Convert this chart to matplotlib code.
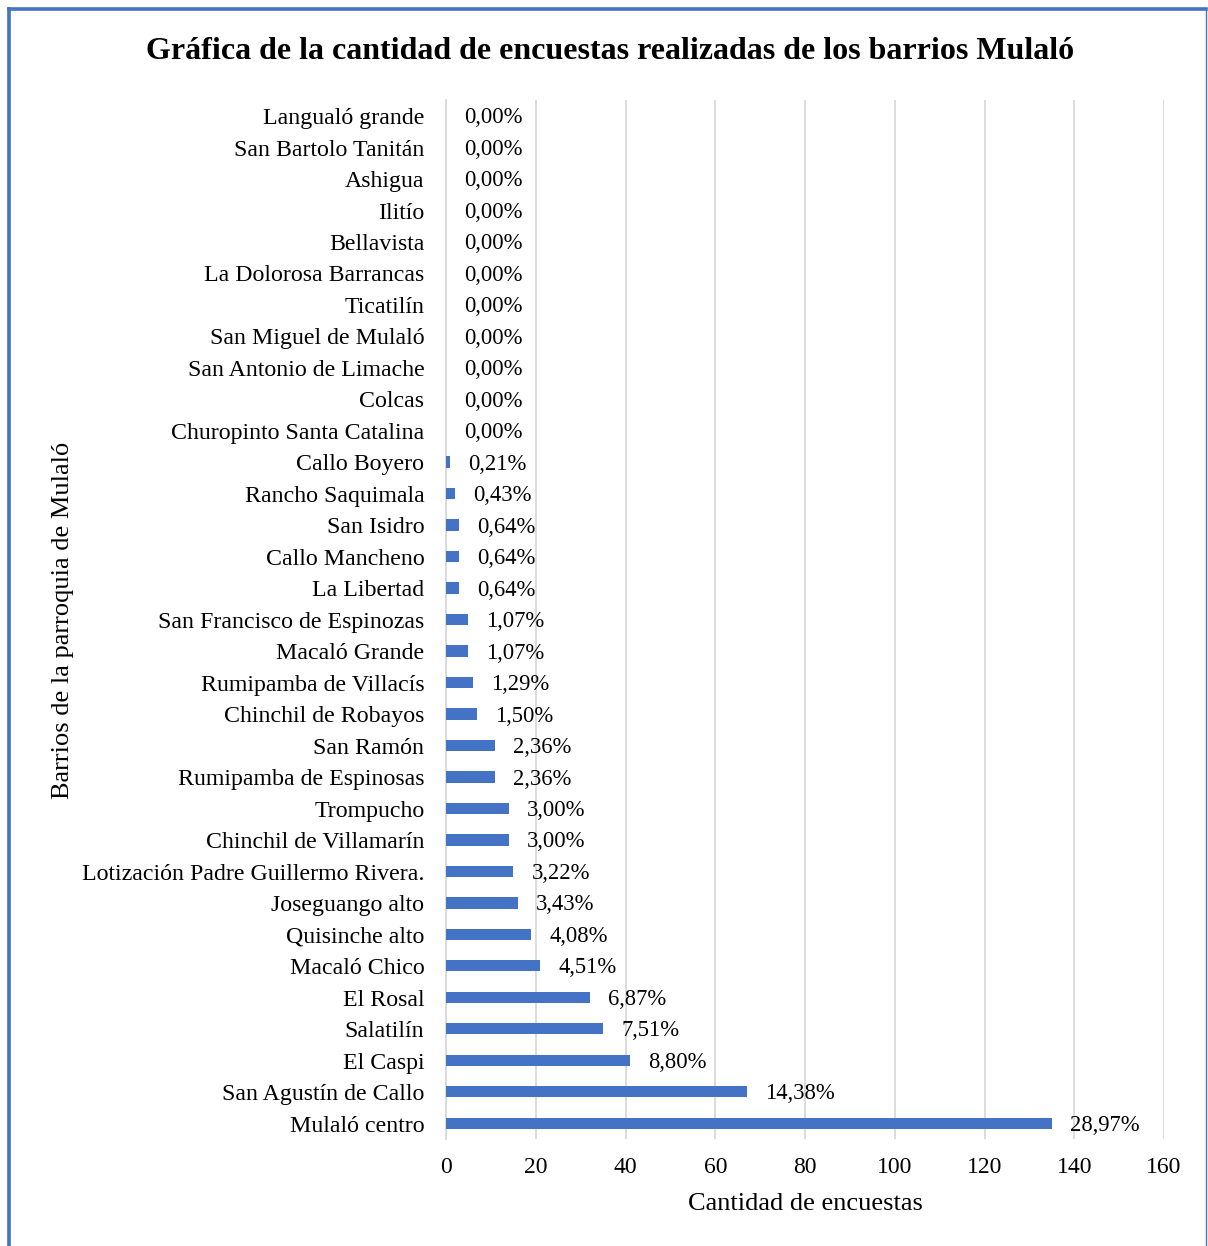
import matplotlib.pyplot as plt
from matplotlib.lines import Line2D

plt.rcParams['font.family'] = ['Liberation Serif', 'DejaVu Serif']

# Data (top to bottom as shown)
barrios = [
    'Langualó grande', 'San Bartolo Tanitán', 'Ashigua', 'Ilitío', 'Bellavista',
    'La Dolorosa Barrancas', 'Ticatilín', 'San Miguel de Mulaló',
    'San Antonio de Limache', 'Colcas', 'Churopinto Santa Catalina',
    'Callo Boyero', 'Rancho Saquimala', 'San Isidro', 'Callo Mancheno',
    'La Libertad', 'San Francisco de Espinozas', 'Macaló Grande',
    'Rumipamba de Villacís', 'Chinchil de Robayos', 'San Ramón',
    'Rumipamba de Espinosas', 'Trompucho', 'Chinchil de Villamarín',
    'Lotización Padre Guillermo Rivera.', 'Joseguango alto', 'Quisinche alto',
    'Macaló Chico', 'El Rosal', 'Salatilín', 'El Caspi', 'San Agustín de Callo',
    'Mulaló centro',
]
encuestas = [0, 0, 0, 0, 0, 0, 0, 0, 0, 0, 0,
             1, 2, 3, 3, 3, 5, 5, 6, 7, 11, 11, 14, 14, 15, 16, 19, 21,
             32, 35, 41, 67, 135]
porcentajes = ['0,00%'] * 11 + [
    '0,21%', '0,43%', '0,64%', '0,64%', '0,64%', '1,07%', '1,07%', '1,29%',
    '1,50%', '2,36%', '2,36%', '3,00%', '3,00%', '3,22%', '3,43%', '4,08%',
    '4,51%', '6,87%', '7,51%', '8,80%', '14,38%', '28,97%']

fig = plt.figure(figsize=(12.08, 12.46), dpi=100)
ax = fig.add_axes([0.3692, 0.0859, 0.5944, 0.8338])

n = len(barrios)
pos = list(range(n))
ax.barh(pos, encuestas, height=0.36, color='#4472C4', zorder=3)

for p, v, t in zip(pos, encuestas, porcentajes):
    ax.annotate(t, (v, p), xytext=(13, -1.5), textcoords='offset points',
                va='center', ha='left', fontsize=16.3, color='#000000')

# category labels drawn as text so they can sit a touch below bar centre
ax.set_yticks(pos)
ax.set_yticklabels([])
for p, b in zip(pos, barrios):
    ax.annotate(b, (0, p), xycoords=('axes fraction', 'data'), xytext=(-15.5, -2),
                textcoords='offset points', ha='right', va='center', fontsize=17.2)
ax.set_ylim(n - 0.5, -0.5)
ax.set_xlim(0, 160)
ax.set_xticks(range(0, 161, 20))
ax.tick_params(axis='x', labelsize=17, length=0, pad=13)
ax.tick_params(axis='y', length=0)
ax.grid(axis='x', color='#d9d9d9', linewidth=1.3, zorder=0)
for s in ['top', 'right', 'bottom']:
    ax.spines[s].set_visible(False)
ax.spines['left'].set_color('#d9d9d9')
ax.spines['left'].set_linewidth(1.3)

ax.set_xlabel('Cantidad de encuestas', fontsize=19, labelpad=11)
fig.text(0.052, 0.502, 'Barrios de la parroquia de Mulaló', rotation=90,
         fontsize=19, va='center', ha='center')
fig.text(0.505, 0.959, 'Gráfica de la cantidad de encuestas realizadas de los barrios Mulaló',
         fontsize=23, fontweight='bold', ha='center', va='center')

# outer frame
fig.add_artist(Line2D([9 / 1208, 9 / 1208], [0, 1 - 9 / 1246], color='#4472C4',
                      linewidth=2.6, transform=fig.transFigure))
fig.add_artist(Line2D([9 / 1208, 1206 / 1208], [1 - 9 / 1246, 1 - 9 / 1246],
                      color='#4472C4', linewidth=2.6, transform=fig.transFigure))
fig.add_artist(Line2D([1206 / 1208, 1206 / 1208], [0, 1 - 9 / 1246], color='#4472C4',
                      linewidth=1.0, transform=fig.transFigure))

plt.savefig('out.png', dpi=100)
